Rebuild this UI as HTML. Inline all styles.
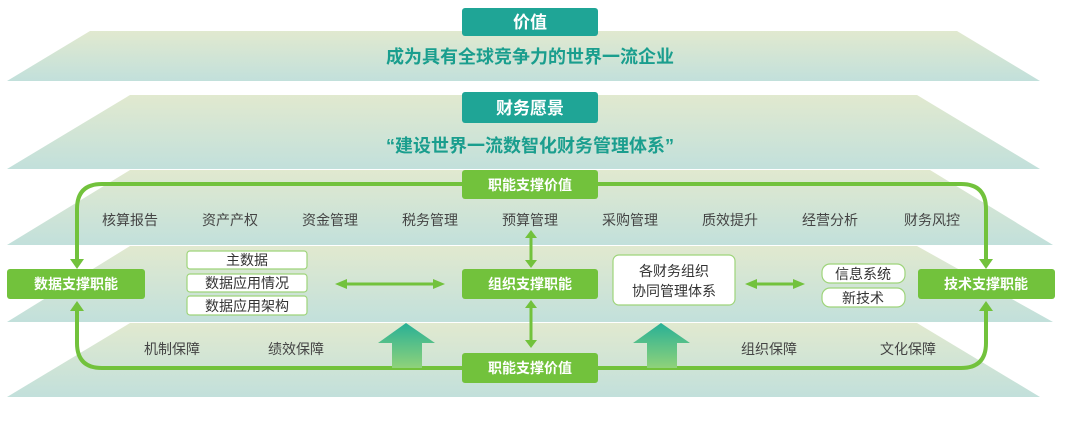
<!DOCTYPE html>
<html><head><meta charset="utf-8"><style>
html,body{margin:0;padding:0;background:#fff;}
svg text{font-family:"Liberation Sans","Noto Sans CJK SC",sans-serif;}
</style></head><body>
<svg width="1080" height="424" viewBox="0 0 1080 424" xmlns="http://www.w3.org/2000/svg">
<defs>
<linearGradient id="lg" x1="0" y1="0" x2="0" y2="1">
<stop offset="0" stop-color="#e1e9cf"/><stop offset="1" stop-color="#c2e0db"/>
</linearGradient>
<linearGradient id="ar" x1="0" y1="0" x2="0" y2="1">
<stop offset="0" stop-color="#28b096"/><stop offset="1" stop-color="#8fd27a"/>
</linearGradient>
</defs>
<polygon points="90,31 957,31 1040,81 7,81" fill="url(#lg)"/>
<polygon points="130,95 917,95 1040,169 7,169" fill="url(#lg)"/>
<polygon points="130,170 930,170 1053,245 7,245" fill="url(#lg)"/>
<polygon points="130,246 917,246 1053,322 7,322" fill="url(#lg)"/>
<polygon points="130,323 917,323 1040,397 7,397" fill="url(#lg)"/>

<rect x="462" y="8" width="136" height="28" rx="3" fill="#1fa596"/>
<text x="530" y="28" font-size="17" fill="#fff" text-anchor="middle" font-weight="bold">价值</text>
<text x="530" y="63" font-size="18" fill="#1a9e8e" text-anchor="middle" font-weight="bold">成为具有全球竞争力的世界一流企业</text>
<rect x="462" y="92" width="136" height="31" rx="3" fill="#1fa596"/>
<text x="530" y="114" font-size="17" fill="#fff" text-anchor="middle" font-weight="bold">财务愿景</text>
<text x="530" y="152" font-size="18" fill="#1a9e8e" text-anchor="middle" font-weight="bold">“建设世界一流数智化财务管理体系”</text>

<g fill="none" stroke="#72c23c" stroke-width="4">
<path d="M77,262 V209 Q77,184 102,184 H961 Q986,184 986,209 V262"/>
<path d="M77,308 V343 Q77,368 102,368 H961 Q986,368 986,343 V308"/>
<path d="M531,236 V262 M531,306 V342" stroke-width="3"/>
<path d="M345,284 H435 M755,284 H795" stroke-width="3"/>
</g>
<g fill="#72c23c">
<polygon points="70,259 84,259 77,269"/>
<polygon points="70,311 84,311 77,301"/>
<polygon points="979,259 993,259 986,269"/>
<polygon points="979,311 993,311 986,301"/>
<polygon points="525,238 537,238 531,230"/>
<polygon points="525,260 537,260 531,268"/>
<polygon points="525,308 537,308 531,300"/>
<polygon points="525,340 537,340 531,348"/>
<polygon points="347,279 347,289 335,284"/>
<polygon points="433,279 433,289 445,284"/>
<polygon points="757,279 757,289 745,284"/>
<polygon points="793,279 793,289 805,284"/>
</g>
<polygon points="406,323 435,343 422,343 422,368 392,368 392,343 378,343" fill="url(#ar)"/>
<polygon points="661,323 690,343 677,343 677,368 647,368 647,343 633,343" fill="url(#ar)"/>

<g font-size="14" fill="#fff" text-anchor="middle" font-weight="bold">
<rect x="462" y="170" width="136" height="29" rx="3" fill="#72c23c"/>
<text x="530" y="190">职能支撑价值</text>
<rect x="462" y="353" width="136" height="30" rx="3" fill="#72c23c"/>
<text x="530" y="373">职能支撑价值</text>
<rect x="7" y="269" width="138" height="30" rx="3" fill="#72c23c"/>
<text x="76" y="289">数据支撑职能</text>
<rect x="462" y="269" width="136" height="30" rx="3" fill="#72c23c"/>
<text x="530" y="289">组织支撑职能</text>
<rect x="918" y="269" width="137" height="30" rx="3" fill="#72c23c"/>
<text x="986" y="289">技术支撑职能</text>
</g>

<g font-size="14" fill="#444" text-anchor="middle">
<text x="130" y="225">核算报告</text><text x="230" y="225">资产产权</text><text x="330" y="225">资金管理</text>
<text x="430" y="225">税务管理</text><text x="530" y="225">预算管理</text><text x="630" y="225">采购管理</text>
<text x="730" y="225">质效提升</text><text x="830" y="225">经营分析</text><text x="932" y="225">财务风控</text>
<text x="172" y="354">机制保障</text><text x="296" y="354">绩效保障</text>
<text x="769" y="354">组织保障</text><text x="908" y="354">文化保障</text>
</g>
<g fill="#fff" stroke="#9ed47a" stroke-width="1.2">
<rect x="187" y="251" width="120" height="18" rx="3"/>
<rect x="187" y="274" width="120" height="18" rx="3"/>
<rect x="187" y="296" width="120" height="19" rx="3"/>
<rect x="613" y="255" width="122" height="50" rx="6"/>
<rect x="822" y="264" width="83" height="19" rx="8"/>
<rect x="822" y="288" width="83" height="19" rx="8"/>
</g>
<g font-size="14" fill="#333" text-anchor="middle">
<text x="247" y="265">主数据</text><text x="247" y="288">数据应用情况</text><text x="247" y="311">数据应用架构</text>
<text x="674" y="276">各财务组织</text><text x="674" y="296">协同管理体系</text>
<text x="863" y="279">信息系统</text><text x="863" y="303">新技术</text>
</g>
</svg>
</body></html>
